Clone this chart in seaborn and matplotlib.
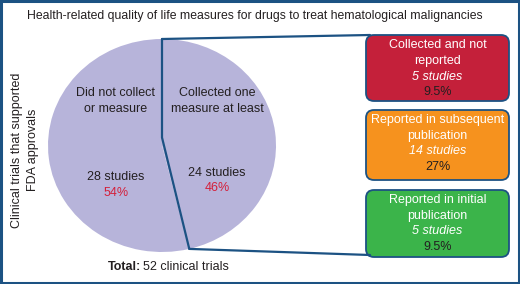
import numpy as np
import matplotlib
matplotlib.use('Agg')
import matplotlib.pyplot as plt
from matplotlib.patches import FancyBboxPatch, Rectangle
import seaborn as sns

# Pie data: trials that collected vs did not collect HRQoL measures
pie_labels = ['Collected one\nmeasure at least', 'Did not collect\nor measure']
pie_counts = [24, 28]
pie_pcts = ['46%', '54%']

# Breakdown of the "collected" slice
box_labels = ['Collected and not\nreported', 'Reported in subsequent\npublication',
              'Reported in initial\npublication']
box_counts = [5, 14, 5]
box_pcts = ['9.5%', '27%', '9.5%']
box_colors = ['#c4203a', '#f6921e', '#3bb44a']

title = 'Health-related quality of life measures for drugs to treat hematological malignancies'
side_label = ['Clinical trials that supported', 'FDA approvals']
total = sum(pie_counts)

sns.set_theme(style='white')
plt.rcParams['font.family'] = ['Liberation Sans', 'DejaVu Sans']

W, H = 520, 284
NAVY = '#1c5283'
LAV = '#b7b4da'
TXT = '#231f20'
fig = plt.figure(figsize=(W / 100, H / 100), dpi=100)

# pie geometry in pixels
cx, cy, rx, ry = 162, 145.5, 114, 106.5
ax_pie = fig.add_axes([(cx - rx) / W, 1 - (cy + ry) / H, 2 * rx / W, 2 * ry / H])
wedges, _ = ax_pie.pie(pie_counts, startangle=90, counterclock=False,
                       colors=[LAV, LAV], wedgeprops=dict(linewidth=0))
ax_pie.set_aspect('auto')
ax_pie.set_xlim(-1, 1)
ax_pie.set_ylim(-1, 1)
ax_pie.axis('off')

# overlay in pixel coordinates
ax = fig.add_axes([0, 0, 1, 1], zorder=3)
ax.set_xlim(0, W)
ax.set_ylim(H, 0)
ax.axis('off')
ax.patch.set_alpha(0)


def px(theta):
    t = np.deg2rad(theta)
    return cx + rx * np.cos(t), cy - ry * np.sin(t)


# divider of the "collected" wedge
top = px(wedges[0].theta2)
end = px(wedges[0].theta1)
ax.plot([top[0], cx, end[0]], [top[1], cy - 8, end[1]], color=NAVY, lw=1.6,
        solid_joinstyle='miter')

# boxes
bx, bw = 366, 143
box_tops = [35, 110, 190]
box_hs = [66, 70, 67]
for i in range(3):
    ax.add_patch(FancyBboxPatch((bx, box_tops[i]), bw, box_hs[i],
                                boxstyle='round,pad=0,rounding_size=8',
                                fc=box_colors[i], ec=NAVY, lw=1.3))
    tx = bx + bw / 2
    y0 = box_tops[i] + 10.5
    lines = box_labels[i].split('\n')
    for j, ln in enumerate(lines):
        ax.text(tx, y0 + j * 15.5, ln, color='white', fontsize=9,
                ha='center', va='center')
    ax.text(tx, y0 + 31, f'{box_counts[i]} studies', color='white',
            fontsize=9, style='italic', ha='center', va='center')
    ax.text(tx, y0 + 46.5, box_pcts[i], color=TXT, fontsize=9,
            ha='center', va='center')

# zoom connectors
ax.plot([top[0], bx + 4], [top[1], box_tops[0]], color=NAVY, lw=1.6)
ax.plot([end[0], bx + 4], [end[1], box_tops[2] + box_hs[2] - 2], color=NAVY, lw=1.6)

# pie labels
for lab, n, p, x in zip(pie_labels, pie_counts, pie_pcts, [217, 116]):
    for j, ln in enumerate(lab.split('\n')):
        ax.text(x, 93 + j * 15.5, ln, fontsize=9, ha='center', va='center',
                color=TXT)
    ax.text(x, 177 if x < 150 else 173, f'{n} studies', fontsize=9,
            ha='center', va='center', color=TXT)
    ax.text(x, 193 if x < 150 else 188, p, fontsize=9,
            ha='center', va='center', color='#d41f3a')

ax.text(W / 2 - 5, 16, title, fontsize=8.8, ha='center', va='center', color=TXT)
for j, ln in enumerate(side_label):
    ax.text(17 + j * 16, 150, ln, fontsize=9, rotation=90, ha='center',
            va='center', color=TXT)
t1 = ax.text(108, 267, 'Total:', fontsize=9, fontweight='bold', ha='left',
             va='center', color=TXT)
ax.annotate(f'{total} clinical trials', xy=(1, 0.5), xycoords=t1,
            xytext=(1.5, 0), textcoords='offset points', fontsize=9,
            ha='left', va='center', color=TXT)

# frame
ax.add_patch(Rectangle((1, 1), W - 2, H - 2, fill=False, ec=NAVY, lw=2.2))

fig.savefig('out.png', dpi=100)
